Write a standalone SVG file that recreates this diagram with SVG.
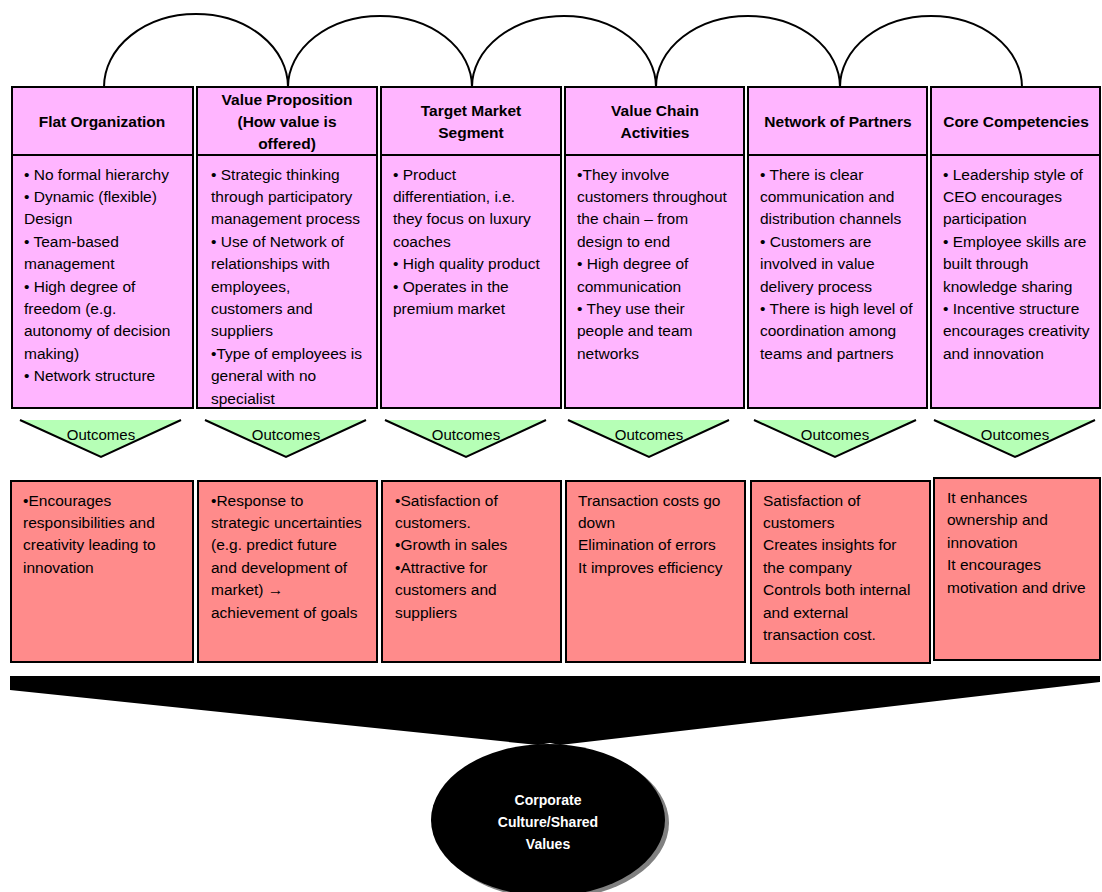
<svg xmlns="http://www.w3.org/2000/svg" width="1102" height="892" viewBox="0 0 1102 892">
<style>
.hd{fill:#ffb5ff;stroke:#000;stroke-width:2}
.oc{fill:#ff8b8b;stroke:#000;stroke-width:2}
.tri{fill:#b6ffb6}
.triS{fill:none;stroke:#000;stroke-width:2}
.arc{fill:none;stroke:#000;stroke-width:2}
.t{font-family:"Liberation Sans",Arial,sans-serif;font-size:15.5px;fill:#000}
.h{font-family:"Liberation Sans",Arial,sans-serif;font-size:15.5px;font-weight:bold;fill:#000;text-anchor:middle}
.o{font-family:"Liberation Sans",Arial,sans-serif;font-size:15px;fill:#000;text-anchor:middle}
.c{font-family:"Liberation Sans",Arial,sans-serif;font-size:14px;font-weight:bold;fill:#fff;text-anchor:middle}
</style>
<g id="connectors">
<path class="arc" d="M104,87 A92,73 0 0 1 288,87"/>
<path class="arc" d="M288,87 A92,71 0 0 1 472,87"/>
<path class="arc" d="M472,87 A92,71 0 0 1 656,87"/>
<path class="arc" d="M656,87 A92,71 0 0 1 840,87"/>
<path class="arc" d="M840,87 A91,71 0 0 1 1022,87"/>
</g>
<g id="node-flat">
<rect class="hd" x="12" y="87" width="181" height="321"/>
<line x1="12" y1="155" x2="193" y2="155" stroke="#000" stroke-width="2"/>
<text class="h" x="102" y="127">Flat Organization</text>
<text class="t" x="24" y="179.5">• No formal hierarchy</text>
<text class="t" x="24" y="201.9">• Dynamic (flexible)</text>
<text class="t" x="24" y="224.3">Design</text>
<text class="t" x="24" y="246.7">• Team-based</text>
<text class="t" x="24" y="269.1">management</text>
<text class="t" x="24" y="291.5">• High degree of</text>
<text class="t" x="24" y="313.9">freedom (e.g.</text>
<text class="t" x="24" y="336.3">autonomy of decision</text>
<text class="t" x="24" y="358.7">making)</text>
<text class="t" x="24" y="381.1">• Network structure</text>
</g>
<g id="node-value-prop">
<rect class="hd" x="197" y="87" width="180" height="321"/>
<line x1="197" y1="155" x2="377" y2="155" stroke="#000" stroke-width="2"/>
<text class="h" x="287" y="105">Value Proposition</text>
<text class="h" x="287" y="127">(How value is</text>
<text class="h" x="287" y="149">offered)</text>
<text class="t" x="211" y="179.5">• Strategic thinking</text>
<text class="t" x="211" y="201.9">through participatory</text>
<text class="t" x="211" y="224.3">management process</text>
<text class="t" x="211" y="246.7">• Use of Network of</text>
<text class="t" x="211" y="269.1">relationships with</text>
<text class="t" x="211" y="291.5">employees,</text>
<text class="t" x="211" y="313.9">customers and</text>
<text class="t" x="211" y="336.3">suppliers</text>
<text class="t" x="211" y="358.7">•Type of employees is</text>
<text class="t" x="211" y="381.1">general with no</text>
<text class="t" x="211" y="403.5">specialist</text>
</g>
<g id="node-target">
<rect class="hd" x="381" y="87" width="180" height="321"/>
<line x1="381" y1="155" x2="561" y2="155" stroke="#000" stroke-width="2"/>
<text class="h" x="471" y="116">Target Market</text>
<text class="h" x="471" y="138">Segment</text>
<text class="t" x="393" y="179.5">• Product</text>
<text class="t" x="393" y="201.9">differentiation, i.e.</text>
<text class="t" x="393" y="224.3">they focus on luxury</text>
<text class="t" x="393" y="246.7">coaches</text>
<text class="t" x="393" y="269.1">• High quality product</text>
<text class="t" x="393" y="291.5">• Operates in the</text>
<text class="t" x="393" y="313.9">premium market</text>
</g>
<g id="node-value-chain">
<rect class="hd" x="565" y="87" width="179" height="321"/>
<line x1="565" y1="155" x2="744" y2="155" stroke="#000" stroke-width="2"/>
<text class="h" x="655" y="116">Value Chain</text>
<text class="h" x="655" y="138">Activities</text>
<text class="t" x="577" y="179.5">•They involve</text>
<text class="t" x="577" y="201.9">customers throughout</text>
<text class="t" x="577" y="224.3">the chain – from</text>
<text class="t" x="577" y="246.7">design to end</text>
<text class="t" x="577" y="269.1">• High degree of</text>
<text class="t" x="577" y="291.5">communication</text>
<text class="t" x="577" y="313.9">• They use their</text>
<text class="t" x="577" y="336.3">people and team</text>
<text class="t" x="577" y="358.7">networks</text>
</g>
<g id="node-network">
<rect class="hd" x="748" y="87" width="179" height="321"/>
<line x1="748" y1="155" x2="927" y2="155" stroke="#000" stroke-width="2"/>
<text class="h" x="838" y="127">Network of Partners</text>
<text class="t" x="760" y="179.5">• There is clear</text>
<text class="t" x="760" y="201.9">communication and</text>
<text class="t" x="760" y="224.3">distribution channels</text>
<text class="t" x="760" y="246.7">• Customers are</text>
<text class="t" x="760" y="269.1">involved in value</text>
<text class="t" x="760" y="291.5">delivery process</text>
<text class="t" x="760" y="313.9">• There is high level of</text>
<text class="t" x="760" y="336.3">coordination among</text>
<text class="t" x="760" y="358.7">teams and partners</text>
</g>
<g id="node-core">
<rect class="hd" x="931" y="87" width="169" height="321"/>
<line x1="931" y1="155" x2="1100" y2="155" stroke="#000" stroke-width="2"/>
<text class="h" x="1016" y="127">Core Competencies</text>
<text class="t" x="943" y="179.5">• Leadership style of</text>
<text class="t" x="943" y="201.9">CEO encourages</text>
<text class="t" x="943" y="224.3">participation</text>
<text class="t" x="943" y="246.7">• Employee skills are</text>
<text class="t" x="943" y="269.1">built through</text>
<text class="t" x="943" y="291.5">knowledge sharing</text>
<text class="t" x="943" y="313.9">• Incentive structure</text>
<text class="t" x="943" y="336.3">encourages creativity</text>
<text class="t" x="943" y="358.7">and innovation</text>
</g>
<g id="outcome-arrows">
<g id="tri1"><polygon class="tri" points="20,420 181,420 101,457"/><polyline class="triS" points="20,420 101,457 181,420"/><text class="o" x="101" y="440">Outcomes</text></g>
<g id="tri2"><polygon class="tri" points="205,420 366,420 286,457"/><polyline class="triS" points="205,420 286,457 366,420"/><text class="o" x="286" y="440">Outcomes</text></g>
<g id="tri3"><polygon class="tri" points="385,420 546,420 466,457"/><polyline class="triS" points="385,420 466,457 546,420"/><text class="o" x="466" y="440">Outcomes</text></g>
<g id="tri4"><polygon class="tri" points="568,420 729,420 649,457"/><polyline class="triS" points="568,420 649,457 729,420"/><text class="o" x="649" y="440">Outcomes</text></g>
<g id="tri5"><polygon class="tri" points="754,420 916,420 835,457"/><polyline class="triS" points="754,420 835,457 916,420"/><text class="o" x="835" y="440">Outcomes</text></g>
<g id="tri6"><polygon class="tri" points="934,420 1095,420 1015,457"/><polyline class="triS" points="934,420 1015,457 1095,420"/><text class="o" x="1015" y="440">Outcomes</text></g>
</g>
<g id="out-flat">
<rect class="oc" x="11" y="481" width="182" height="181"/>
<text class="t" x="23" y="505.5">•Encourages</text>
<text class="t" x="23" y="527.9">responsibilities and</text>
<text class="t" x="23" y="550.3">creativity leading to</text>
<text class="t" x="23" y="572.7">innovation</text>
</g>
<g id="out-value-prop">
<rect class="oc" x="198" y="481" width="179" height="181"/>
<text class="t" x="211" y="505.5">•Response to</text>
<text class="t" x="211" y="527.9">strategic uncertainties</text>
<text class="t" x="211" y="550.3">(e.g. predict future</text>
<text class="t" x="211" y="572.7">and development of</text>
<text class="t" x="211" y="595.1">market) →</text>
<text class="t" x="211" y="617.5">achievement of goals</text>
</g>
<g id="out-target">
<rect class="oc" x="382" y="481" width="179" height="181"/>
<text class="t" x="395" y="505.5">•Satisfaction of</text>
<text class="t" x="395" y="527.9">customers.</text>
<text class="t" x="395" y="550.3">•Growth in sales</text>
<text class="t" x="395" y="572.7">•Attractive for</text>
<text class="t" x="395" y="595.1">customers and</text>
<text class="t" x="395" y="617.5">suppliers</text>
</g>
<g id="out-value-chain">
<rect class="oc" x="566" y="481" width="179" height="181"/>
<text class="t" x="578" y="505.5">Transaction costs go</text>
<text class="t" x="578" y="527.9">down</text>
<text class="t" x="578" y="550.3">Elimination of errors</text>
<text class="t" x="578" y="572.7">It improves efficiency</text>
</g>
<g id="out-network">
<rect class="oc" x="751" y="481" width="179" height="182"/>
<text class="t" x="763" y="505.5">Satisfaction of</text>
<text class="t" x="763" y="527.9">customers</text>
<text class="t" x="763" y="550.3">Creates insights for</text>
<text class="t" x="763" y="572.7">the company</text>
<text class="t" x="763" y="595.1">Controls both internal</text>
<text class="t" x="763" y="617.5">and external</text>
<text class="t" x="763" y="639.9">transaction cost.</text>
</g>
<g id="out-core">
<rect class="oc" x="934" y="478" width="166" height="182"/>
<text class="t" x="947" y="503">It enhances</text>
<text class="t" x="947" y="525.4">ownership and</text>
<text class="t" x="947" y="547.8">innovation</text>
<text class="t" x="947" y="570.2">It encourages</text>
<text class="t" x="947" y="592.6">motivation and drive</text>
</g>
<g id="funnel">
<polygon points="10,676 1100,676 1100,682 560,745 550,743 538,745 10,690" fill="#000"/>
</g>
<g id="node-culture">
<ellipse cx="552" cy="823" rx="117" ry="76" fill="#808080"/>
<ellipse cx="548" cy="820" rx="117" ry="76" fill="#000"/>
<text class="c" x="548" y="805">Corporate</text>
<text class="c" x="548" y="827">Culture/Shared</text>
<text class="c" x="548" y="849">Values</text>
</g>
</svg>
